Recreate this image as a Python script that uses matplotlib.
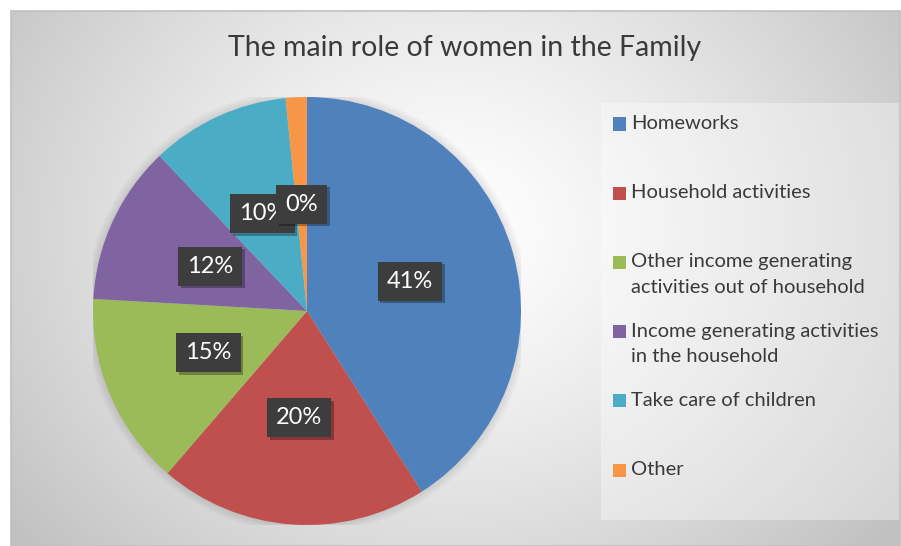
import matplotlib
matplotlib.use("Agg")
import matplotlib.pyplot as plt
import matplotlib.patheffects as pe
import numpy as np
import textwrap
from matplotlib.patches import Rectangle, Circle

plt.rcParams['font.family'] = ['Lato', 'DejaVu Sans']

title = "The main role of women in the Family"
categories = ["Homeworks", "Household activities",
              "Other income generating activities out of household",
              "Income generating activities in the household",
              "Take care of children", "Other"]
values = [41.0, 20.3, 14.6, 12.0, 10.5, 1.6]
value_labels = ["41%", "20%", "15%", "12%", "10%", "0%"]
colors = ["#4F81BD", "#C0504D", "#9BBB59", "#8064A2", "#4BACC6", "#F79646"]

W, H = 901, 546
fig = plt.figure(figsize=(W / 100, H / 100), dpi=100)
fig.patch.set_facecolor("white")

def fx(x):
    return x / W

def fy(y):
    return 1 - y / H

# background frame with radial gradient
fl, ft, fr, fb = 11, 11, 900, 546
bg = fig.add_axes([fx(fl), fy(fb), fx(fr - fl), (fb - ft) / H])
bg.set_axis_off()
yy, xx = np.mgrid[ft:fb, fl:fr]
cx, cy = 450, 230
r = np.sqrt(((xx - cx) / 1.15) ** 2 + (yy - cy) ** 2)
t = np.clip(r / 480, 0, 1)
val = 1.0 - 0.24 * t ** 1.3
img = np.dstack([val, val, val])
bg.imshow(img, extent=[0, 1, 0, 1], aspect='auto', origin='upper')
bg.set_xlim(0, 1)
bg.set_ylim(0, 1)
fig.patches.append(Rectangle((fx(fl), fy(fb)), fx(fr - fl), (fb - ft) / H,
                             transform=fig.transFigure, fill=False,
                             edgecolor="#c0c0c0", linewidth=1.2, zorder=5))

# legend box
lx0, ly0, lx1, ly1 = 601, 103, 900, 520
fig.patches.append(Rectangle((fx(lx0), fy(ly1)), fx(lx1 - lx0), (ly1 - ly0) / H,
                             transform=fig.transFigure, facecolor="white",
                             alpha=0.35, edgecolor="none", zorder=2))

# pie
pcx, pcy, pr = 307, 311, 214
ax = fig.add_axes([fx(pcx - pr), fy(pcy + pr), fx(2 * pr), 2 * pr / H])
ax.set_axis_off()
# soft shadow
for i in range(8):
    ax.add_patch(Circle((0, 0), 1.0 + 0.005 * (i + 1), facecolor="black",
                        alpha=0.012, edgecolor="none", zorder=0))
wedges, _ = ax.pie(values, colors=colors, startangle=90, counterclock=False,
                   wedgeprops=dict(linewidth=0, edgecolor="none"))
for w in wedges:
    w.set_zorder(2)
ax.set_xlim(-1, 1)
ax.set_ylim(-1, 1)
ax.set_aspect('equal')

# data labels
total = sum(values)
start = 90.0
for i, (v, lab) in enumerate(zip(values, value_labels)):
    ang = start - 360.0 * v / total / 2
    start -= 360.0 * v / total
    x = 0.5 * np.cos(np.radians(ang))
    y = 0.5 * np.sin(np.radians(ang))
    tx = ax.text(x, y, lab, ha='center', va='center', fontsize=17, color='white',
                 zorder=4 + i,
                 bbox=dict(boxstyle='square,pad=0.38', facecolor='#3d3d3d', edgecolor='none'))
    tx.get_bbox_patch().set_path_effects([
        pe.SimplePatchShadow(offset=(2, -2), shadow_rgbFace='black', alpha=0.3),
        pe.Normal()])

# title
fig.text(fx(465), fy(48), title, ha='center', va='center', fontsize=20.5,
         color="#3a3a3a", zorder=6)

# legend
for i, (cat, col) in enumerate(zip(categories, colors)):
    ytop = 124 + 69.2 * i
    fig.patches.append(Rectangle((fx(613), fy(ytop + 6.5)), fx(13), 13 / H,
                                 transform=fig.transFigure, facecolor=col,
                                 edgecolor='none', zorder=6))
    fig.text(fx(631), fy(ytop - 9), textwrap.fill(cat, 28), ha='left', va='top',
             fontsize=14.5, color="#3a3a3a", linespacing=1.6, zorder=6)

fig.savefig("out.png", dpi=100)
